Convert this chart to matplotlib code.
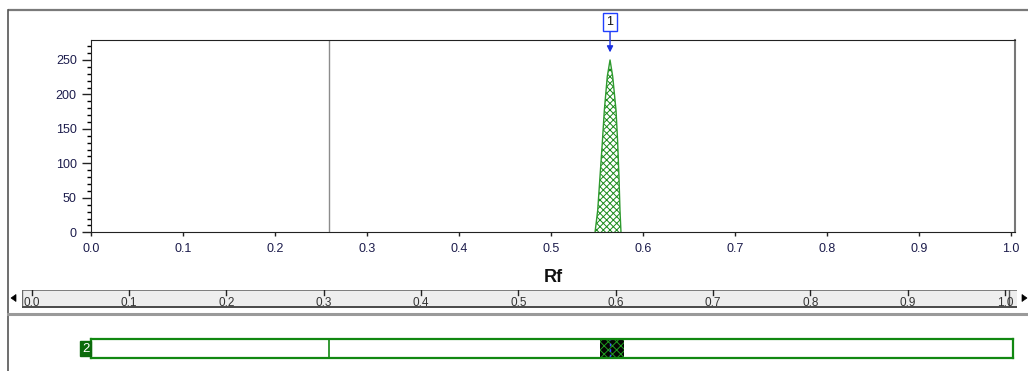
import matplotlib
matplotlib.use("Agg")
import matplotlib.pyplot as plt
from matplotlib.patches import Polygon

plt.rcParams['font.family'] = ['Liberation Sans', 'DejaVu Sans']
plt.rcParams['hatch.linewidth'] = 0.7

# Densitogram profile of track 2 (Rf vs intensity)
rf_profile = [0.5482, 0.5511, 0.5536, 0.5561, 0.5583, 0.5615, 0.5645,
              0.5674, 0.5710, 0.5728, 0.5742, 0.5753, 0.5764]
intensity = [0, 32, 81, 130, 177, 226, 250, 226, 177, 130, 81, 32, 0]

peak_id = "1"
peak_rf = 0.5645
peak_height = 250
front_rf = 0.259          # solvent front / reference line
spot_start, spot_end = 0.554, 0.580
track_id = "2"

x_ticks = [0.0, 0.1, 0.2, 0.3, 0.4, 0.5, 0.6, 0.7, 0.8, 0.9, 1.0]
y_ticks = [0, 50, 100, 150, 200, 250]
y_max = 279

W, H = 1028, 371
fig = plt.figure(figsize=(W / 100, H / 100), dpi=100)


def px_axes(x0, y0, x1, y1, **kw):
    return fig.add_axes([x0 / W, 1 - y1 / H, (x1 - x0) / W, (y1 - y0) / H], **kw)


# overall frame / separators
over = px_axes(0, 0, W, H, zorder=0)
over.set_xlim(0, W)
over.set_ylim(H, 0)
over.axis('off')
over.plot([8, W], [10, 10], color='#7a7a7a', lw=1.6, solid_capstyle='butt')
over.plot([8, 8], [10, H], color='#555555', lw=1.2)
over.plot([8, W], [313.5, 313.5], color='#9a9a9a', lw=2.2)

# main chart
ax = px_axes(90.7, 40, 1015, 232.3, zorder=2)
ax.set_xlim(0, (1015 - 90.7) / 920)
ax.set_ylim(0, y_max)
ax.axvline(front_rf, color='#8c8c8c', lw=1.0)
ax.fill_between(rf_profile, intensity, 0, facecolor='white', edgecolor='#1a8a1a',
                hatch='xxxxx', lw=0)
ax.plot(rf_profile, intensity, color='#2e9a2e', lw=1.0)
ax.set_xticks(x_ticks)
ax.set_xticklabels([f"{v:.1f}" for v in x_ticks])
ax.set_yticks(y_ticks)
ax.set_yticks(range(0, y_max, 10), minor=True)
ax.tick_params(axis='both', labelsize=9, labelcolor='#1c1c4c', color='#222222')
ax.tick_params(axis='y', which='major', length=6.5, width=1.0, pad=3.5)
ax.tick_params(axis='y', which='minor', length=3.2, width=1.0)
ax.tick_params(axis='x', which='major', length=3.2, width=1.0, pad=4.5)
ax.tick_params(axis='x', which='minor', length=0)
for s in ['left', 'bottom', 'top']:
    ax.spines[s].set_color('#222222')
ax.spines['right'].set_color('#777777')
ax.spines['right'].set_linewidth(1.5)
fig.text(553 / W, 1 - 277 / H, 'Rf', ha='center', va='center',
         fontsize=13, fontweight='bold', color='#111111')

# peak marker
ax.annotate(peak_id, xy=(peak_rf, peak_height + 11), xytext=(peak_rf, 305),
            ha='center', va='center', fontsize=9, color='#111111',
            annotation_clip=False,
            bbox=dict(boxstyle='square,pad=0.25', fc='white', ec='#2040ff', lw=1.0),
            arrowprops=dict(arrowstyle='-|>', color='#1a30e0', lw=1.0,
                            mutation_scale=9, shrinkA=0, shrinkB=0))

# Rf ruler
rul = px_axes(21.7, 290, 1017, 307.5, zorder=2)
rul.set_xlim((21.7 - 31.7) / 973.3, (1017 - 31.7) / 973.3)
rul.set_ylim(0, 1)
rul.set_facecolor('#eeeeee')
rul.set_xticks([])
rul.set_yticks([])
for s in rul.spines.values():
    s.set_visible(False)
rul.axhline(1, color='#6a6a6a', lw=1.2)
rul.axvline(rul.get_xlim()[0], color='#6a6a6a', lw=1.0)
for v in x_ticks:
    rul.plot([v, v], [1, 0.72], color='#222222', lw=1.0)
    rul.text(v, -0.08, f"{v:.1f}", ha='center', va='bottom', fontsize=8.5,
             color='#333333', zorder=3)
rul.plot([1.004, 1.004], [1, 0.1], color='#555555', lw=1.0)
rul.axhline(0.02, color='#4a4a4a', lw=1.4, zorder=6)

# scroll arrows
over.add_patch(Polygon([[11, 298], [16, 294.5], [16, 301.5]], closed=True,
                       fc='black', ec='black', lw=0.5))
over.add_patch(Polygon([[1027, 298], [1022, 294.5], [1022, 301.5]], closed=True,
                       fc='black', ec='black', lw=0.5))

# track view
trk = px_axes(90.7, 339, 1013, 358, zorder=2)
trk.set_xlim(0, (1013 - 90.7) / 920)
trk.set_ylim(0, 1)
trk.set_xticks([])
trk.set_yticks([])
for s in trk.spines.values():
    s.set_color('#118811')
    s.set_linewidth(1.6)
trk.axvline(front_rf, color='#118811', lw=1.2)
trk.axvspan(spot_start, spot_end, ymin=0.05, ymax=0.95, facecolor='#050505',
            edgecolor='#1f9a1f', hatch='xxxx', lw=0)
trk.axvline(peak_rf, ymin=0.05, ymax=0.95, color='#3050ff', lw=1.0, ls=(0, (2, 2)))
trk.text(-0.0015, 0.5, track_id, ha='right', va='center', fontsize=9.5,
         color='white', transform=trk.transAxes,
         bbox=dict(boxstyle='square,pad=0.12', fc='#0b6b0b', ec='#0b6b0b'))

fig.savefig('out.png', dpi=100)
